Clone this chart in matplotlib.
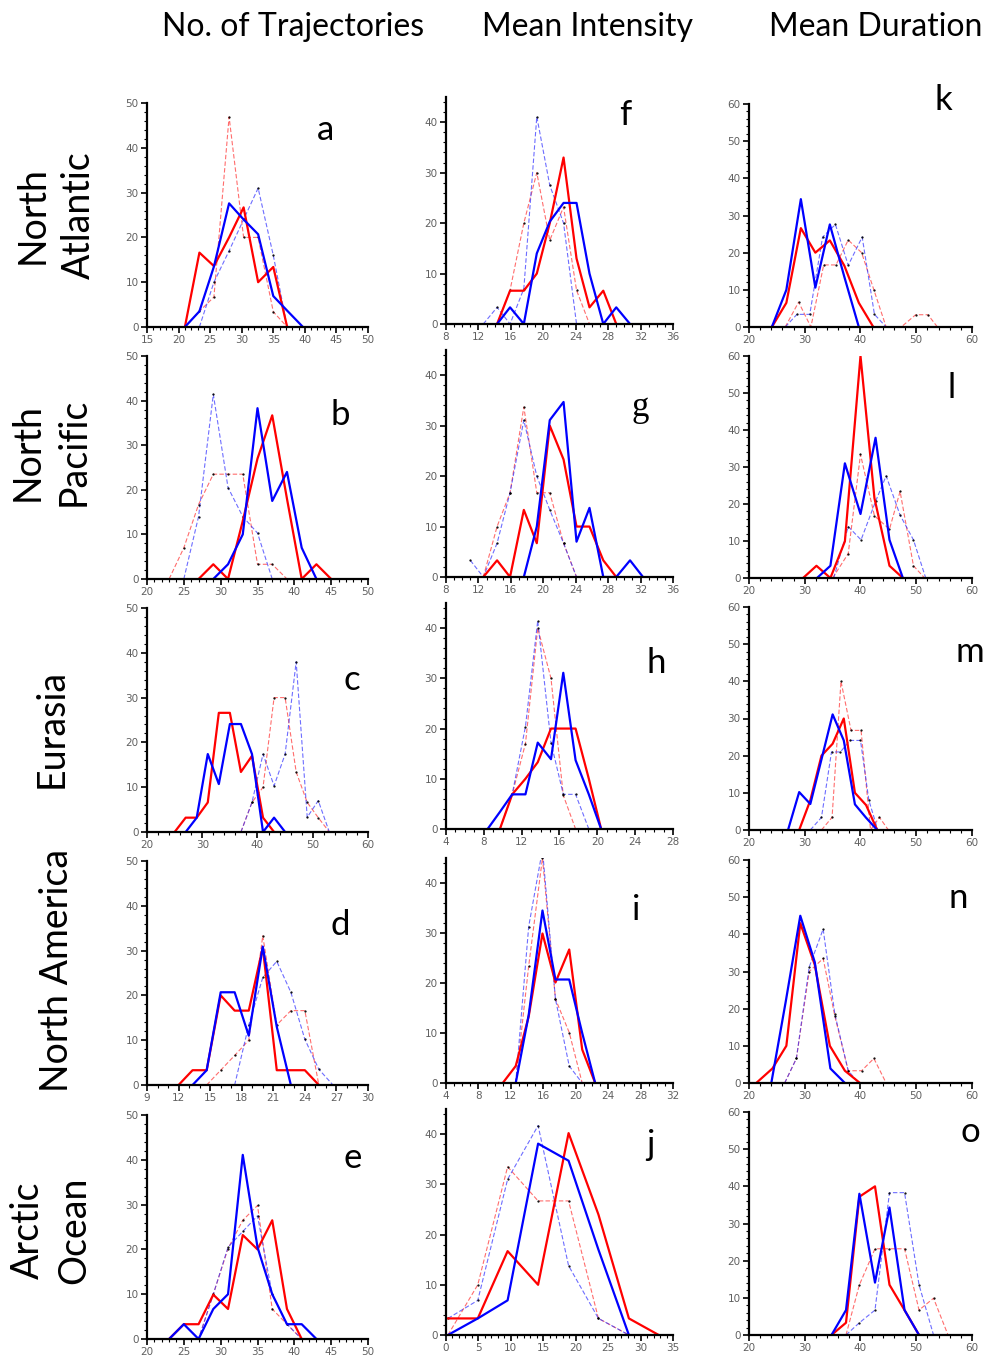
import matplotlib
matplotlib.use('Agg')
import matplotlib.pyplot as plt
from matplotlib.ticker import MultipleLocator

# ---- data: (x, y) per series ----
# column 1: No. of Trajectories
a_red = ([21, 23.3, 25.6, 28, 30.3, 32.6, 35, 37.2], [0, 16.6, 13.6, 20, 26.7, 10, 13.4, 0])
a_blue = ([21, 23.3, 25.6, 28, 30.3, 32.6, 35, 37.3, 39.7], [0, 3.5, 13.5, 27.6, 24, 20.7, 6.9, 3.5, 0])
a_red_d = ([21, 23.3, 25.6, 28, 30.3, 32.6, 35, 37.2], [0, 3.5, 6.7, 46.9, 20, 20, 3.4, 0])
a_blue_d = ([23.3, 25.6, 28, 30.3, 32.6, 35, 37.2], [0, 10, 17, 24, 31, 16, 0])

b_red = ([27, 29, 31, 33, 35, 37, 39, 41, 43, 45], [0, 3.3, 0, 13, 27, 36.7, 18, 0, 3.3, 0])
b_blue = ([29, 31, 33, 35, 37, 39, 41, 43], [0, 3.3, 10, 38.3, 17.5, 24, 7, 0])
b_red_d = ([23, 25, 27, 29, 31, 33, 35, 37, 39], [0, 7, 16.7, 23.5, 23.5, 23.5, 3.3, 3.3, 0])
b_blue_d = ([25, 27, 29, 31, 33, 35, 37], [0, 14, 41.4, 20.5, 14, 10.3, 0])

c_red = ([25, 27, 29, 31, 33, 35, 37, 39, 41, 43], [0, 3.2, 3.2, 6.6, 26.6, 26.6, 13.4, 17, 3.2, 0])
c_blue = ([27, 29, 31, 33, 35, 37, 39, 41, 43, 45], [0, 3.2, 17.4, 10.7, 24.1, 24.1, 17.4, 0, 3.2, 0])
c_red_d = ([37, 39, 41, 43, 45, 47, 49, 51, 53], [0, 6.6, 10, 30, 30, 13.4, 6.6, 3.2, 0])
c_blue_d = ([37, 39, 41, 43, 45, 47, 49, 51, 53], [0, 6.6, 17.4, 10.3, 17.4, 38, 3.3, 7, 0])

d_red = ([12, 13.33, 14.67, 16, 17.33, 18.67, 20, 21.33, 22.67, 24, 25.33],
         [0, 3.3, 3.3, 20, 16.6, 16.6, 30.7, 3.3, 3.3, 3.3, 0])
d_blue = ([13.33, 14.67, 16, 17.33, 18.67, 20, 21.33, 22.67], [0, 3.3, 20.7, 20.7, 11, 30.9, 13, 0])
d_red_d = ([14.67, 16, 17.33, 18.67, 20, 21.33, 22.67, 24, 25.33], [0, 3.3, 6.6, 10, 33.3, 13.4, 16.6, 16.6, 0])
d_blue_d = ([17.33, 18.67, 20, 21.33, 22.67, 24, 25.33, 26.67], [0, 13.4, 24, 27.6, 20.7, 10.2, 3.5, 0])

e_red = ([23, 25, 27, 29, 31, 33, 35, 37, 39, 41], [0, 3.3, 3.3, 9.9, 6.7, 23.2, 20, 26.5, 6.7, 0])
e_blue = ([23, 25, 27, 29, 31, 33, 35, 37, 39, 41, 43], [0, 3.3, 0, 6.7, 10, 41.1, 20.5, 10, 3.3, 3.3, 0])
e_red_d = ([23, 25, 27, 29, 31, 33, 35, 37, 39, 41], [0, 3.3, 0, 10, 20.2, 26.5, 29.8, 6.7, 3.3, 0])
e_blue_d = ([23, 25, 27, 29, 31, 33, 35, 37, 39, 41], [0, 3.3, 0, 10, 20.5, 24, 27.5, 10, 3.3, 0])

# column 2: Mean Intensity
f_red = ([14.3, 15.9, 17.6, 19.2, 20.8, 22.5, 24.1, 25.7, 27.4, 29.0], [0, 6.6, 6.6, 10, 20, 33, 13, 3.3, 6.6, 0])
f_blue = ([14.3, 15.9, 17.6, 19.2, 20.8, 22.5, 24.1, 25.7, 27.4, 29.0, 30.7],
          [0, 3.3, 0, 14, 20.3, 24, 24, 10, 0, 3.3, 0])
f_red_d = ([14.3, 15.9, 17.6, 19.2, 20.8, 22.5, 24.1, 25.7], [0, 6.7, 20, 30, 16.6, 23.2, 6.7, 0])
f_blue_d = ([12.6, 14.3, 15.9, 17.6, 19.2, 20.8, 22.5, 24.1], [0, 3.3, 0, 7, 41.1, 27.5, 20, 0])

g_red = ([12.6, 14.3, 15.9, 17.6, 19.2, 20.8, 22.5, 24.1, 25.7, 27.4, 29.0],
         [0, 3.3, 0, 13.3, 6.7, 30, 23.3, 10, 10, 3.3, 0])
g_blue = ([17.6, 19.2, 20.8, 22.5, 24.1, 25.7, 27.4, 29.0, 30.7, 32.3], [0, 10, 31.1, 34.7, 7, 13.7, 0, 0, 3.3, 0])
g_red_d = ([12.6, 14.3, 15.9, 17.6, 19.2, 20.8, 22.5, 24.1], [0, 10, 16.7, 33.7, 16.7, 16.7, 6.7, 0])
g_blue_d = ([11.0, 12.6, 14.3, 15.9, 17.6, 19.2, 20.8, 22.5, 24.1], [3.3, 0, 6.7, 16.7, 31.1, 20, 13.3, 6.7, 0])

h_red = ([9.7, 11.0, 12.4, 13.7, 15.1, 16.4, 17.7, 19.1, 20.4], [0, 6.9, 10, 13.3, 20, 20, 20, 10, 0])
h_blue = ([8.4, 9.7, 11.0, 12.4, 13.7, 15.1, 16.4, 17.7, 19.1, 20.4], [0, 3.4, 6.9, 6.9, 17.2, 13.9, 31.1, 13.7, 6.9, 0])
h_red_d = ([9.7, 11.0, 12.4, 13.7, 15.1, 16.4, 17.7], [0, 6.9, 17, 40, 30, 6.7, 0])
h_blue_d = ([9.7, 11.0, 12.4, 13.7, 15.1, 16.4, 17.7, 19.1], [0, 6.9, 20.4, 41.5, 17.2, 6.9, 6.9, 0])

i_red = ([11.0, 12.6, 14.2, 15.9, 17.5, 19.2, 20.8, 22.4], [0, 3.4, 13.3, 29.9, 20.1, 26.7, 6.7, 0])
i_blue = ([12.6, 14.2, 15.9, 17.5, 19.2, 20.8, 22.4], [0, 13.6, 34.5, 20.7, 20.7, 10, 0])
i_red_d = ([12.6, 14.2, 15.9, 17.5, 19.2, 20.8], [0, 23.4, 45, 16.8, 10.1, 0])
i_blue_d = ([12.6, 14.2, 15.9, 17.5, 19.2, 20.8], [0, 31.3, 46.7, 16.8, 3.4, 0])

j_red = ([0.3, 4.9, 9.5, 14.2, 18.9, 23.5, 28.2, 32.8], [3.3, 3.3, 16.7, 10, 40.2, 24, 3.3, 0])
j_blue = ([0.3, 4.9, 9.5, 14.2, 18.9, 23.5, 28.2], [0, 3.3, 6.9, 38.1, 34.7, 17, 0])
j_red_d = ([0.3, 4.9, 9.5, 14.2, 18.9, 23.5, 28.2], [0, 10, 33.5, 26.7, 26.7, 3.3, 0])
j_blue_d = ([0.3, 4.9, 9.5, 14.2, 18.9, 23.5, 28.2], [3.3, 6.9, 31, 41.7, 13.8, 3.3, 0])

# column 3: Mean Duration
k_red = ([24.1, 26.7, 29.3, 31.9, 34.5, 37.1, 39.7, 42.3], [0, 6.5, 26.6, 20, 23.3, 16.5, 6.5, 0])
k_blue = ([24.1, 26.7, 29.3, 31.9, 34.5, 37.1, 39.7], [0, 10, 34.4, 10.6, 27.6, 13.5, 0])
k_red_d = ([26.5, 28.9, 31.1, 33.4, 35.6, 37.8, 40.2, 42.4, 44.6, 47.3, 49.9, 52.1, 53.8],
           [0, 6.7, 0, 16.7, 16.7, 23.4, 20, 10, 0, 0, 3.3, 3.3, 0])
k_blue_d = ([26.5, 28.6, 30.9, 33.2, 35.5, 37.8, 40.3, 42.5, 44.6], [0, 3.4, 3.4, 24.2, 27.6, 16.6, 24.2, 3.4, 0])

l_red = ([29.7, 32.1, 34.6, 37.2, 40.0, 42.5, 45.2, 47.6], [0, 3.3, 0, 9.9, 60, 21.6, 3.3, 0])
l_blue = ([32.2, 34.6, 37.2, 40.0, 42.7, 45.2, 47.6], [0, 3.3, 31, 17.3, 37.9, 10.3, 0])
l_red_d = ([35.0, 37.8, 40.0, 42.5, 45.2, 47.1, 49.5, 51.5], [0, 6.6, 33.4, 16.8, 13.2, 23.4, 3.3, 0])
l_blue_d = ([35.2, 37.8, 40.1, 42.7, 44.6, 47.1, 49.5, 51.7], [0, 13.9, 10.3, 20.7, 27.6, 17, 10.3, 0])

m_red = ([29, 31, 33, 35, 37, 39, 41, 43], [0, 8, 20, 23.2, 30, 10, 6.7, 0])
m_blue = ([27, 29, 31, 33, 35, 37, 39, 41, 43], [0, 10.2, 7, 19, 31.1, 24.1, 6.9, 3.3, 0])
m_red_d = ([33, 34.9, 36.5, 38.3, 40.1, 41.8, 43.4, 45], [0, 3.4, 40, 26.8, 26.8, 0, 3.4, 0])
m_blue_d = ([31, 33, 34.8, 36.4, 38.1, 40, 41.5, 43.1], [0, 3.4, 21, 21, 24.1, 24.1, 8, 0])

n_red = ([21.3, 24.2, 26.7, 29.2, 31.8, 34.5, 37.2, 39.9], [0, 3.9, 10, 43, 31.8, 10, 3.3, 0])
n_blue = ([24.0, 26.6, 29.2, 31.8, 34.6, 37.2], [0, 22, 45, 32.5, 3.9, 0])
n_red_d = ([26.4, 28.5, 30.8, 33.3, 35.4, 37.8, 40.2, 42.4, 44.6], [0, 6.6, 30, 33.5, 18, 3.3, 3.3, 6.6, 0])
n_blue_d = ([26.4, 28.5, 30.8, 33.3, 35.4, 37.8, 39.7], [0, 6.6, 31.2, 41.4, 18.5, 3.3, 0])

o_red = ([34.8, 37.4, 39.8, 42.6, 45.2, 47.9, 50.5], [0, 3.3, 37.2, 40, 13.5, 6.7, 0])
o_blue = ([34.8, 37.4, 39.8, 42.6, 45.2, 47.9, 50.5], [0, 6.7, 38, 14.1, 34.3, 6.7, 0])
o_red_d = ([37.4, 39.8, 42.6, 45.2, 47.9, 50.5, 53.1, 55.7], [0, 13.5, 23.2, 23.2, 23.2, 6.7, 9.9, 0])
o_blue_d = ([37.4, 39.8, 42.6, 45.2, 47.9, 50.5, 53.1], [0, 3.3, 6.7, 38.3, 38.3, 13.5, 0])

col_titles = ['No. of Trajectories', 'Mean Intensity', 'Mean Duration']
row_labels = ['North\nAtlantic', 'North\nPacific', 'Eurasia', 'North America', 'Arctic\nOcean']
letters = ['a', 'b', 'c', 'd', 'e', 'f', 'g', 'h', 'i', 'j', 'k', 'l', 'm', 'n', 'o']

panels = [
    [(a_red, a_blue, a_red_d, a_blue_d), (b_red, b_blue, b_red_d, b_blue_d),
     (c_red, c_blue, c_red_d, c_blue_d), (d_red, d_blue, d_red_d, d_blue_d),
     (e_red, e_blue, e_red_d, e_blue_d)],
    [(f_red, f_blue, f_red_d, f_blue_d), (g_red, g_blue, g_red_d, g_blue_d),
     (h_red, h_blue, h_red_d, h_blue_d), (i_red, i_blue, i_red_d, i_blue_d),
     (j_red, j_blue, j_red_d, j_blue_d)],
    [(k_red, k_blue, k_red_d, k_blue_d), (l_red, l_blue, l_red_d, l_blue_d),
     (m_red, m_blue, m_red_d, m_blue_d), (n_red, n_blue, n_red_d, n_blue_d),
     (o_red, o_blue, o_red_d, o_blue_d)],
]

# x axis (min, max, major, minor) per panel
xaxes = [
    [(15, 50, 5, 1), (20, 50, 5, 1), (20, 60, 10, 2), (9, 30, 3, 1), (20, 50, 5, 1)],
    [(8, 36, 4, 1), (8, 36, 4, 1), (4, 28, 4, 1), (4, 32, 4, 1), (0, 35, 5, 1)],
    [(20, 60, 10, 2)] * 5,
]
ymax = [50, 45, 60]
ymajor_top = [50, 40, 60]

# ---- layout in pixels ----
W, H = 995, 1361
col_x = [(147, 368), (446, 673), (749, 972)]
row_y = [
    [(103, 327), (356, 579), (608, 832), (861, 1085), (1115, 1339)],
    [(97, 324), (350, 577), (603, 829), (858, 1083), (1109, 1335)],
    [(104, 327), (356, 578), (607, 830), (860, 1083), (1112, 1335)],
]
letter_pos = [
    [(325, 130), (340, 415), (352, 680), (340, 925), (353, 1158)],
    [(625, 115), (640, 408), (656, 663), (636, 910), (650, 1145)],
    [(943, 100), (952, 388), (970, 652), (958, 898), (970, 1132)],
]

fig = plt.figure(figsize=(W / 100, H / 100), dpi=100)

for c in range(3):
    x0, x1 = col_x[c]
    for r in range(5):
        yt, yb = row_y[c][r]
        ax = fig.add_axes([x0 / W, 1 - yb / H, (x1 - x0) / W, (yb - yt) / H])
        red, blue, red_d, blue_d = panels[c][r]
        ax.plot(*red_d, color='#ff3030', lw=0.8, ls=(0, (4, 2)), alpha=0.7)
        ax.plot(*blue_d, color='#3030ff', lw=0.8, ls=(0, (4, 2)), alpha=0.7)
        ax.plot(*red_d, ls='none', marker='.', ms=1.2, color='k')
        ax.plot(*blue_d, ls='none', marker='.', ms=1.2, color='k')
        ax.plot(*red, color='red', lw=1.6)
        ax.plot(*blue, color='blue', lw=1.6)

        xmin, xmax, xmaj, xmin_step = xaxes[c][r]
        ax.set_xlim(xmin, xmax)
        ax.set_ylim(0, ymax[c])
        ax.set_xticks(list(range(xmin, xmax + 1, xmaj)))
        ax.xaxis.set_minor_locator(MultipleLocator(xmin_step))
        ax.set_yticks(list(range(0, ymajor_top[c] + 1, 10)))
        ax.yaxis.set_minor_locator(MultipleLocator(2))
        for side in ['top', 'right']:
            ax.spines[side].set_visible(False)
        for side in ['left', 'bottom']:
            ax.spines[side].set_linewidth(1.6)
        ax.tick_params(which='major', direction='out', length=4, width=1.2,
                       labelsize=7.5, labelcolor='#606060', pad=2)
        ax.tick_params(which='minor', direction='out', length=2, width=0.8)

        lx, ly = letter_pos[c][r]
        fam = 'Liberation Serif' if letters[c * 5 + r] == 'g' else 'Lato'
        fig.text(lx / W, 1 - ly / H, letters[c * 5 + r], fontsize=25,
                 family=fam, ha='center', va='center')

# column titles
for txt, cx in zip(col_titles, [293, 587, 876]):
    fig.text(cx / W, 1 - 27 / H, txt, fontsize=23, family='Lato', ha='center', va='center')

# row labels
for txt, (cx, cy) in zip(row_labels, [(56, 215), (51, 452), (52, 728), (57, 970), (51, 1230)]):
    fig.text(cx / W, 1 - cy / H, txt, fontsize=27, family='Lato', rotation=90,
             ha='center', va='center', linespacing=1.35, multialignment='center')

fig.savefig('out.png', dpi=100)
